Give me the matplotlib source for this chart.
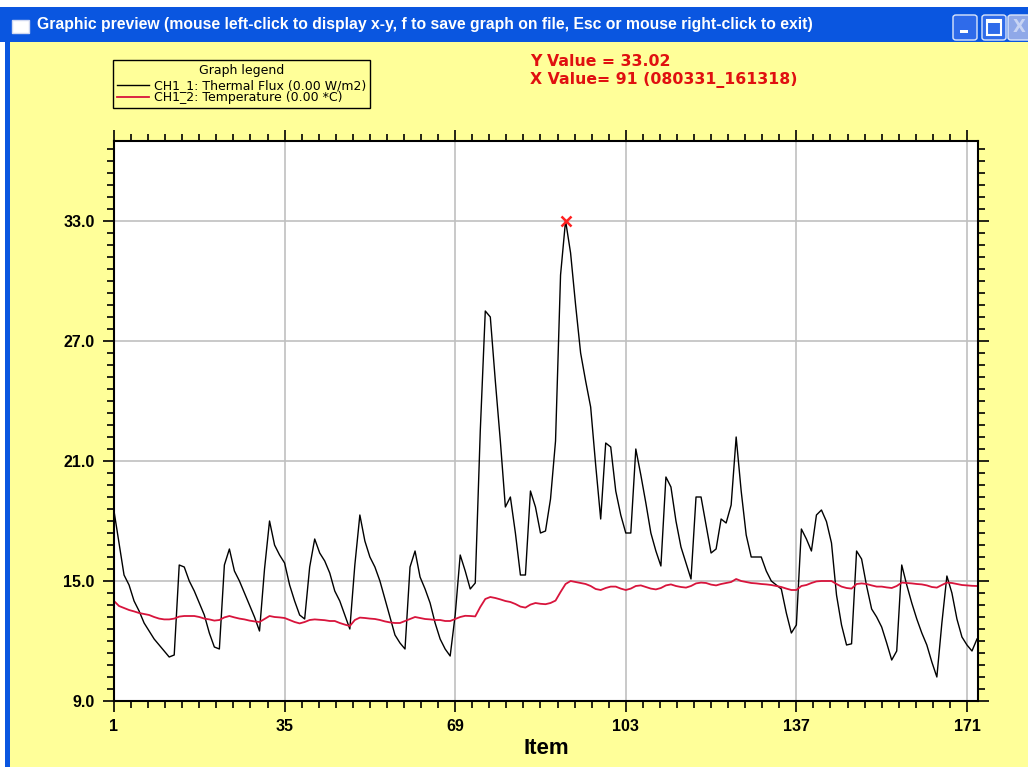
import numpy as np
import matplotlib.pyplot as plt
from matplotlib.patches import Rectangle, FancyBboxPatch
from matplotlib.ticker import FixedLocator, AutoMinorLocator, FormatStrFormatter

# Dati (item 1..173)
items = np.arange(1, 174)

flusso = [18.5, 16.9, 15.3, 14.8, 14.0, 13.5, 12.9, 12.5, 12.1, 11.8,
          11.5, 11.2, 11.3, 15.8, 15.7, 15.0, 14.5, 13.9, 13.3, 12.4,
          11.7, 11.6, 15.8, 16.6, 15.5, 15.0, 14.4, 13.8, 13.2, 12.5,
          15.6, 18.0, 16.8, 16.3, 15.9, 14.8, 14.0, 13.3, 13.1, 15.7,
          17.1, 16.4, 16.0, 15.4, 14.5, 14.0, 13.3, 12.6, 15.8, 18.3,
          17.0, 16.2, 15.7, 15.0, 14.1, 13.2, 12.3, 11.9, 11.6, 15.7,
          16.5, 15.2, 14.6, 13.9, 12.9, 12.1, 11.6, 11.25, 13.3, 16.3,
          15.5, 14.6, 14.9, 22.5, 28.5, 28.2, 25.0, 22.0, 18.7, 19.2,
          17.4, 15.3, 15.3, 19.5, 18.7, 17.4, 17.5, 19.1, 22.0, 30.3,
          33.02, 31.4, 28.8, 26.4, 25.0, 23.7, 20.8, 18.1, 21.9, 21.7,
          19.5, 18.3, 17.4, 17.4, 21.6, 20.3, 18.9, 17.4, 16.5, 15.75,
          20.2, 19.7, 18.0, 16.7, 15.9, 15.1, 19.2, 19.2, 17.8, 16.4,
          16.6, 18.1, 17.9, 18.8, 22.2, 19.5, 17.3, 16.2, 16.2, 16.2,
          15.5, 15.0, 14.8, 14.6, 13.4, 12.4, 12.8, 17.6, 17.1, 16.5,
          18.3, 18.55, 17.97, 16.9, 14.3, 12.8, 11.8, 11.86, 16.5, 16.1,
          14.75, 13.6, 13.2, 12.7, 11.9, 11.05, 11.5, 15.8, 14.8, 13.9,
          13.1, 12.4, 11.8, 10.95, 10.2, 12.9, 15.25, 14.4, 13.1, 12.2,
          11.8, 11.5, 12.1]

temperatura = [14.0, 13.75, 13.65, 13.55, 13.48, 13.4, 13.35, 13.3, 13.2, 13.12,
               13.08, 13.08, 13.12, 13.22, 13.25, 13.25, 13.25, 13.2, 13.12, 13.08,
               13.02, 13.05, 13.18, 13.25, 13.18, 13.12, 13.08, 13.02, 12.98, 12.95,
               13.1, 13.25, 13.2, 13.18, 13.15, 13.05, 12.95, 12.88, 12.95, 13.05,
               13.08, 13.06, 13.04, 13.0, 13.0, 12.9, 12.82, 12.75, 13.05, 13.17,
               13.15, 13.12, 13.1, 13.05, 12.98, 12.93, 12.9, 12.9, 13.0, 13.1,
               13.2, 13.15, 13.1, 13.08, 13.05, 13.05, 13.0, 13.0, 13.1, 13.2,
               13.26, 13.25, 13.23, 13.7, 14.1, 14.2, 14.15, 14.08, 14.0, 13.95,
               13.85, 13.72, 13.67, 13.82, 13.9, 13.86, 13.84, 13.9, 14.02, 14.45,
               14.85, 15.0, 14.95, 14.9, 14.85, 14.75, 14.6, 14.55, 14.65, 14.72,
               14.72, 14.62, 14.55, 14.62, 14.75, 14.78, 14.7, 14.62, 14.58, 14.65,
               14.78, 14.83, 14.75, 14.7, 14.67, 14.75, 14.88, 14.92, 14.9, 14.82,
               14.78, 14.85, 14.9, 14.95, 15.1, 15.0, 14.95, 14.9, 14.88, 14.85,
               14.83, 14.8, 14.75, 14.7, 14.62, 14.55, 14.55, 14.75, 14.8, 14.9,
               14.98, 15.0, 15.0, 15.0, 14.85, 14.72, 14.65, 14.62, 14.85, 14.88,
               14.85, 14.78, 14.72, 14.72, 14.68, 14.65, 14.75, 14.92, 14.9, 14.88,
               14.85, 14.83, 14.78, 14.7, 14.67, 14.8, 14.92, 14.9, 14.85, 14.8,
               14.78, 14.76, 14.75]

xticks = [1, 35, 69, 103, 137, 171]
yticks = [9, 15, 21, 27, 33]
punto_x, punto_y = 91, 33.02

W, H = 1028, 767
giallo = '#FFFF99'
blu = '#0A56E0'


def fx(px):
    return px / W


def fy(py):
    return 1 - py / H


fig = plt.figure(figsize=(W / 100, H / 100), dpi=100, facecolor=giallo)

# cornice della finestra
fig.patches.append(Rectangle((0, fy(7)), 1, 7 / H, transform=fig.transFigure,
                             facecolor='white', edgecolor='none', zorder=0))
fig.patches.append(Rectangle((0, fy(42)), 1, 35 / H, transform=fig.transFigure,
                             facecolor=blu, edgecolor='none', zorder=0))
fig.patches.append(Rectangle((0, 0), fx(5), fy(42), transform=fig.transFigure,
                             facecolor='white', edgecolor='none', zorder=0))
fig.patches.append(Rectangle((fx(5), 0), fx(5), fy(42), transform=fig.transFigure,
                             facecolor=blu, edgecolor='none', zorder=0))
# icona
fig.patches.append(Rectangle((fx(12), fy(33)), fx(17), 13 / H, transform=fig.transFigure,
                             facecolor='white', edgecolor='#d0d8f0', zorder=1))
fig.text(fx(37), fy(25), 'Graphic preview (mouse left-click to display x-y, f to save graph on file, '
         'Esc or mouse right-click to exit)', color='white', fontsize=11.35, fontweight='bold',
         family='Liberation Sans', va='center', ha='left')
# pulsanti
for x0, col in [(953, '#2F6BEA'), (982, '#2F6BEA'), (1008, '#8FA8E8')]:
    fig.patches.append(FancyBboxPatch((fx(x0), fy(40)), fx(24), 25 / H,
                                      boxstyle='round,pad=0,rounding_size=0.003',
                                      transform=fig.transFigure, facecolor=col,
                                      edgecolor='#dce6fa', linewidth=1, zorder=1))
fig.patches.append(Rectangle((fx(960), fy(33)), fx(8), 3 / H, transform=fig.transFigure,
                             facecolor='white', edgecolor='none', zorder=2))
fig.patches.append(Rectangle((fx(987), fy(35)), fx(14), 15 / H, transform=fig.transFigure,
                             facecolor='none', edgecolor='white', linewidth=1.5, zorder=2))
fig.patches.append(Rectangle((fx(987), fy(23)), fx(14), 3 / H, transform=fig.transFigure,
                             facecolor='white', edgecolor='none', zorder=2))
fig.text(fx(1019), fy(27), 'X', color='#c8d4f4', fontsize=12, fontweight='bold',
         va='center', ha='center')

# area del grafico
ax = fig.add_axes([fx(114), fy(701), fx(978 - 114), (701 - 141) / H])
ax.set_facecolor('white')
l1, = ax.plot(items, flusso, color='black', linewidth=1,
              label='CH1_1: Thermal Flux (0.00 W/m2)')
l2, = ax.plot(items, temperatura, color='#D8143C', linewidth=1.3,
              label='CH1_2: Temperature (0.00 *C)')
ax.plot([punto_x], [punto_y], marker='x', color='#FF2020', markersize=7, mew=1.8, zorder=5)

ax.set_xlim(1, 173.2)
ax.set_ylim(9, 37)
ax.xaxis.set_major_locator(FixedLocator(xticks))
ax.yaxis.set_major_locator(FixedLocator(yticks))
ax.xaxis.set_minor_locator(AutoMinorLocator(10))
ax.yaxis.set_minor_locator(AutoMinorLocator(10))
ax.yaxis.set_major_formatter(FormatStrFormatter('%.1f'))
ax.grid(True, which='major', color='#c0c0c0', linewidth=1.2)
ax.set_axisbelow(True)

ax.tick_params(which='both', direction='out', top=True, right=True, color='black', width=1.2)
ax.tick_params(which='major', length=8)
ax.tick_params(which='minor', length=5)
ax.tick_params(axis='y', which='major', pad=6)
ax.tick_params(axis='x', which='major', pad=5)
for lab in ax.get_xticklabels() + ax.get_yticklabels():
    lab.set_fontweight('bold')
    lab.set_fontsize(11.5)
    lab.set_family('Liberation Sans')
for s in ax.spines.values():
    s.set_linewidth(1.5)

ax.set_xlabel('Item', fontsize=16, fontweight='bold', family='Liberation Sans', labelpad=3)

# legenda
leg = fig.legend(handles=[l1, l2], title='Graph legend', loc='upper left',
                 bbox_to_anchor=(fx(113), fy(60)), fontsize=9, title_fontsize=9,
                 frameon=True, fancybox=False, facecolor=giallo, edgecolor='black',
                 framealpha=1, handlelength=2.6, handletextpad=0.4, borderpad=0.3,
                 labelspacing=-0.1, borderaxespad=0)
leg.get_frame().set_linewidth(1)
leg._legend_box.sep = 2

# valori selezionati
fig.text(fx(530), fy(62), 'Y Value = %.2f' % punto_y, color='#E01010', fontsize=11.3,
         fontweight='bold', family='DejaVu Sans', va='center')
fig.text(fx(530), fy(80), 'X Value= %d (080331_161318)' % punto_x, color='#E01010',
         fontsize=11.3, fontweight='bold', family='DejaVu Sans', va='center')

fig.savefig('out.png', dpi=100, facecolor=giallo)
